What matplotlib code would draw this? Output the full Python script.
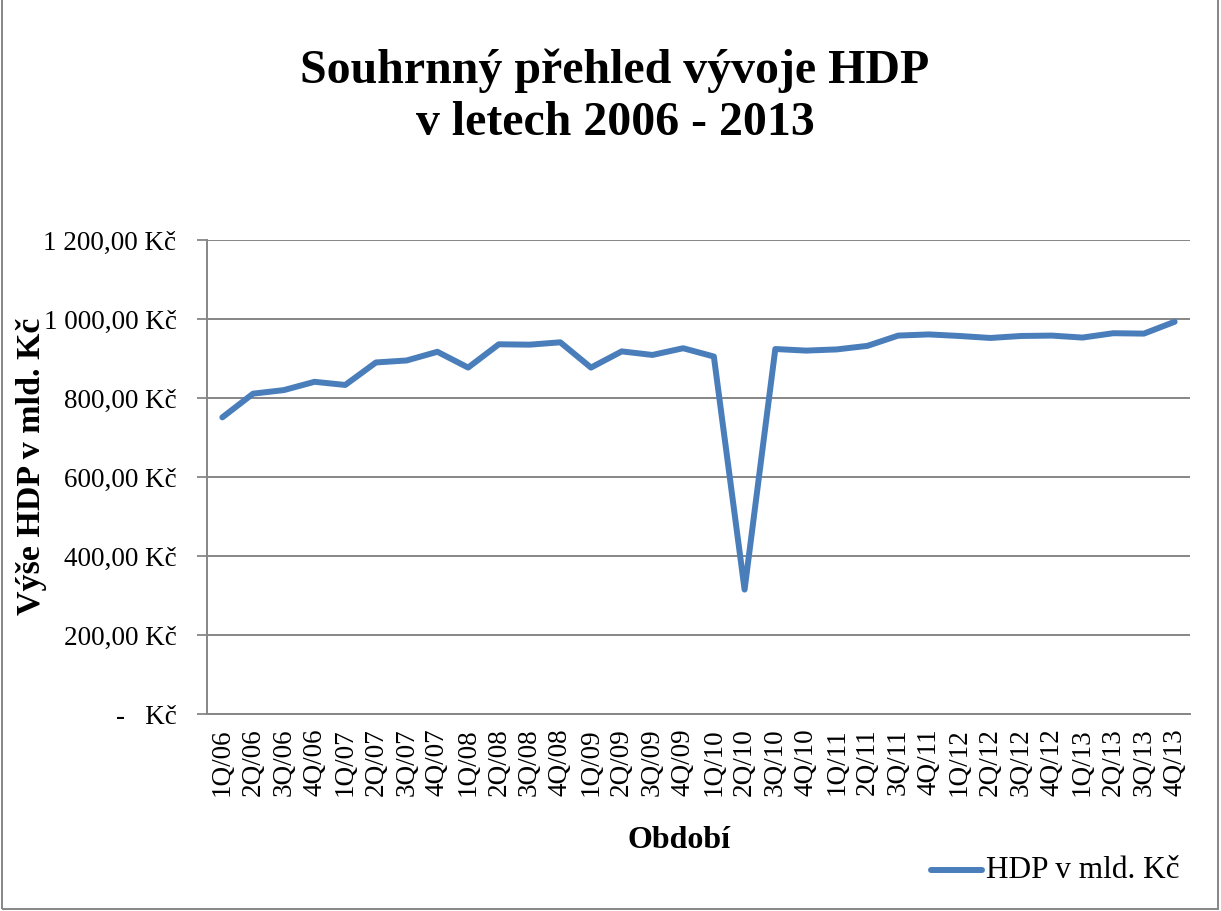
import matplotlib
matplotlib.use("Agg")
import matplotlib.pyplot as plt
from matplotlib.ticker import FuncFormatter
from matplotlib.patches import Rectangle
from matplotlib.lines import Line2D

plt.rcParams['font.family'] = ['Liberation Serif', 'DejaVu Serif']

periods = ["1Q/06", "2Q/06", "3Q/06", "4Q/06", "1Q/07", "2Q/07", "3Q/07", "4Q/07",
           "1Q/08", "2Q/08", "3Q/08", "4Q/08", "1Q/09", "2Q/09", "3Q/09", "4Q/09",
           "1Q/10", "2Q/10", "3Q/10", "4Q/10", "1Q/11", "2Q/11", "3Q/11", "4Q/11",
           "1Q/12", "2Q/12", "3Q/12", "4Q/12", "1Q/13", "2Q/13", "3Q/13", "4Q/13"]
hdp = [751, 811, 820, 841, 833, 890, 895, 917,
       877, 936, 935, 941, 877, 918, 909, 926,
       905, 315, 924, 920, 923, 932, 958, 961,
       957, 952, 957, 958, 953, 964, 963, 993]
yticks = [0, 200, 400, 600, 800, 1000, 1200]

title_lines = ["Souhrnný přehled vývoje HDP", "v letech 2006 - 2013"]
ylabel = "Výše HDP v mld. Kč"
xlabel = "Období"
series_name = "HDP v mld. Kč"

W, H = 1221, 911
fig = plt.figure(figsize=(W/100, H/100), dpi=100)
ax = fig.add_axes([207/W, 1-714/H, (1190-207)/W, (714-240)/H])

x = list(range(len(periods)))
ax.plot(x, hdp, color="#4A7EBB", linewidth=4.3, solid_joinstyle="round",
        solid_capstyle="round", label=series_name)

ax.set_xlim(-0.5, len(periods) - 0.5)
ax.set_ylim(0, 1200)
ax.set_yticks(yticks)

def fmt(v, pos):
    if v == 0:
        return "-   Kč"
    s = f"{v:,.2f}".replace(",", " ").replace(".", ",")
    return s + " Kč"
ax.yaxis.set_major_formatter(FuncFormatter(fmt))

ax.set_xticks(x)
ax.set_xticklabels(periods, rotation=90, fontsize=19.5)
ax.tick_params(axis='x', length=0, pad=10)
ax.tick_params(axis='y', length=7, width=1.3, color="#868686", labelsize=19.5, pad=15)

ax.grid(axis='y', color="#868686", linewidth=1.4)
ax.set_axisbelow(True)
for side in ["top", "right"]:
    ax.spines[side].set_visible(False)
for side in ["left", "bottom"]:
    ax.spines[side].set_color("#868686")
    ax.spines[side].set_linewidth(1.4)

fig.text(615/W, 1-83/H, title_lines[0], ha="center", va="baseline", fontsize=34.5,
         fontweight="bold")
fig.text(615/W, 1-135/H, title_lines[1], ha="center", va="baseline", fontsize=34.5,
         fontweight="bold")
fig.text(32/W, 1-466/H, ylabel, rotation=90, ha="center", va="center",
         fontsize=24.5, fontweight="bold")
fig.text(679/W, 1-840/H, xlabel, ha="center", va="center", fontsize=23,
         fontweight="bold")

# legend
fig.add_artist(Line2D([931/W, 982/W], [1-870/H, 1-870/H], color="#4A7EBB",
                      linewidth=4.3, solid_capstyle="round"))
fig.text(986/W, 1-870/H, series_name, ha="left", va="center", fontsize=22.5)

fig.patches.append(Rectangle((2/W, 0.002), 1-5/W, 1.2, transform=fig.transFigure,
                             fill=False, edgecolor="#868686", linewidth=1.4))

fig.savefig("out.png", dpi=100)
